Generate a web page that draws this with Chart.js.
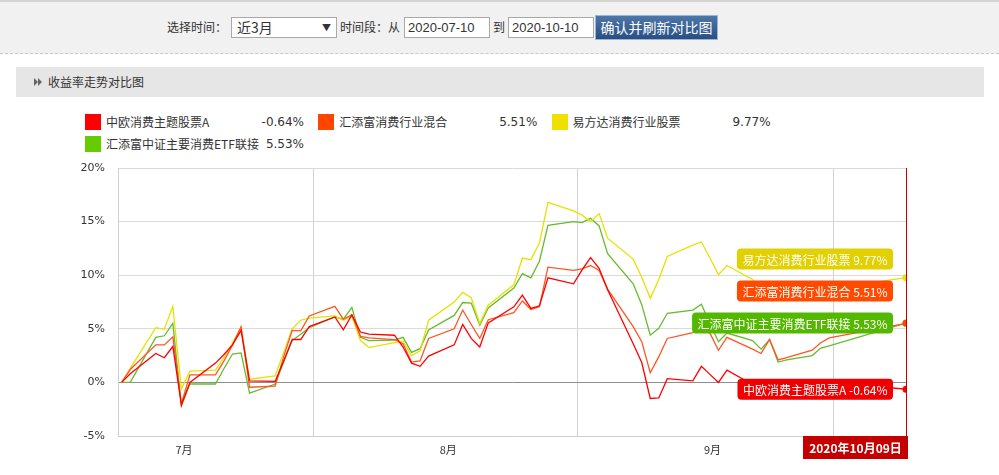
<!DOCTYPE html>
<html>
<head>
<meta charset="utf-8">
<script src="https://cdn.jsdelivr.net/npm/chart.js@4.4.0/dist/chart.umd.min.js"></script>
<style>
  body { margin: 0; width: 999px; height: 475px; overflow: hidden; background: #fff; position: relative;
         font-family: "Noto Sans CJK SC", sans-serif; font-size: 12px; color: #333; }
  .abs { position: absolute; white-space: nowrap; }
  #top { left: 0; top: 0; width: 999px; height: 54px; background: #f1f1f1; border-top: 2px solid #d4d4d4;
         border-bottom: 1px dashed #c9c9c9; box-sizing: border-box; }
  .lbl { line-height: 16px; top: 19px; }
  .box { top: 17px; height: 21px; background: #fff; border: 1px solid #a9a9a9; box-sizing: border-box; }
  .inp { font-family: "Liberation Sans", Arial, sans-serif; font-size: 13px; line-height: 19px; padding-left: 3px; }
  #btn { left: 595px; top: 15px; width: 123px; height: 25px; box-sizing: border-box; border: 1px solid #9fb4cf;
         background: linear-gradient(#4d76ab, #284f84); color: #fff; font-size: 14px; line-height: 22px; text-align: center; }
  #bar { left: 16px; top: 67px; width: 968px; height: 30px; background: #e6e6e6; }
  .tri { position: absolute; top: 11px; width: 0; height: 0; border-top: 4px solid transparent;
         border-bottom: 4px solid transparent; border-left: 4px solid #666; }
  .sq { width: 16px; height: 16px; }
  .lg { line-height: 16px; }
  .lv { font-family: "DejaVu Sans", Verdana, sans-serif; font-size: 12px; line-height: 16px; text-align: right; width: 60px; }
  #c { position: absolute; left: 0; top: 160px; }
</style>
</head>
<body>
<div id="top" class="abs"></div>
<div class="abs lbl" style="left:167px">选择时间：</div>
<div class="abs box" style="left:231px;width:106px">
  <span class="abs" style="left:5px;top:0;font-size:14px;line-height:19px">近3月</span>
  <span class="abs" style="right:5px;top:0;font-size:9px;line-height:19px">▼</span>
</div>
<div class="abs lbl" style="left:340px">时间段：从</div>
<div class="abs box inp" id="fromBox" style="left:404px;width:86px"></div>
<div class="abs lbl" style="left:493px">到</div>
<div class="abs box inp" id="toBox" style="left:508px;width:86px"></div>
<div class="abs" id="btn">确认并刷新对比图</div>

<div class="abs" id="bar">
  <div class="tri" style="left:18px"></div><div class="tri" style="left:22px"></div>
  <span class="abs" style="left:32px;top:0;line-height:30px;font-size:12px">收益率走势对比图</span>
</div>

<div id="legend"></div>
<canvas id="c" width="999" height="315"></canvas>

<script>
// query range shown in the header
const rangeFrom = "2020-07-10";
const rangeTo = "2020-10-10";

// trading days
const dates = [
  "2020-07-09", "2020-07-10", "2020-07-13", "2020-07-14", "2020-07-15", "2020-07-16", "2020-07-17",
  "2020-07-20", "2020-07-21", "2020-07-22", "2020-07-23", "2020-07-24", "2020-07-27", "2020-07-28",
  "2020-07-29", "2020-07-30", "2020-07-31", "2020-08-03", "2020-08-04", "2020-08-05", "2020-08-06",
  "2020-08-07", "2020-08-10", "2020-08-11", "2020-08-12", "2020-08-13", "2020-08-14", "2020-08-17",
  "2020-08-18", "2020-08-19", "2020-08-20", "2020-08-21", "2020-08-24", "2020-08-25", "2020-08-26",
  "2020-08-27", "2020-08-28", "2020-08-31", "2020-09-01", "2020-09-02", "2020-09-03", "2020-09-04",
  "2020-09-07", "2020-09-08", "2020-09-09", "2020-09-10", "2020-09-11", "2020-09-14", "2020-09-15",
  "2020-09-16", "2020-09-17", "2020-09-18", "2020-09-21", "2020-09-22", "2020-09-23", "2020-09-24",
  "2020-09-25", "2020-09-28", "2020-09-29", "2020-09-30", "2020-10-09"
];

// cumulative return, %
const zhongouA = [
  0, 0.8, 2.7, 2.3, 3.35, -2.1, 0.0, 1.8, 2.6, 3.5, 4.85, 0.15, 0.1, 2.0, 4.0, 4.0, 5.2, 6.1, 4.9, 6.3,
  4.7, 4.5, 4.4, 3.3, 1.8, 1.5, 2.45, 3.5, 5.4, 4.1, 3.3, 5.55, 7.05, 8.15, 6.9, 7.15, 9.75, 9.2, 10.5, 11.65,
  10.65, 8.65, 3.6, 1.85, -1.5, -1.45, 0.35, 0.15, 1.5, 0.75, 0.0, 1.15, -0.2, -0.7, 0.1, -0.8, -0.6, -0.5, -0.2, 0.05,
  -0.64
];
const huitianfuMix = [
  0, 1.2, 3.5, 3.5, 4.25, -2.0, 0.7, 0.7, 2.0, 3.5, 5.2, -0.45, -0.35, 2.4, 4.85, 4.8, 6.2, 7.1, 5.9, 6.3,
  4.3, 4.15, 4.0, 3.6, 1.9, 2.0, 4.1, 5.0, 6.75, 5.4, 4.1, 5.85, 6.5, 7.6, 6.8, 7.05, 10.75, 10.45, 10.6, 10.9,
  10.45, 8.7, 5.2, 3.8, 0.9, 2.4, 4.1, 4.65, 4.95, 4.6, 3.0, 4.2, 3.1, 2.7, 4.0, 2.1, 2.3, 3.0, 3.7, 4.15,
  5.51
];
const efundConsumer = [
  0, 1.3, 5.1, 4.95, 7.1, -0.6, 1.05, 1.15, 2.3, 3.7, 5.1, 0.3, 0.6, 2.8, 5.0, 5.8, 6.0, 6.2, 5.8, 6.2,
  3.9, 3.25, 3.7, 3.85, 2.5, 2.95, 5.8, 7.5, 8.4, 7.9, 5.5, 7.2, 9.1, 11.6, 11.45, 13.0, 16.8, 16.0, 15.6, 15.0,
  15.75, 13.45, 11.5, 9.8, 7.85, 9.6, 11.75, 12.8, 13.1, 11.6, 10.05, 10.9, 9.6, 8.9, 9.2, 8.3, 8.5, 8.9, 8.7, 8.7,
  9.77
];
const huitianfuEtf = [
  0, 0.0, 4.2, 4.35, 5.5, -2.2, -0.15, -0.15, 1.3, 2.65, 2.75, -1.0, -0.15, 1.9, 3.9, 4.5, 5.1, 6.1, 5.9, 7.0,
  4.2, 3.9, 3.95, 4.2, 2.8, 3.15, 4.9, 6.25, 7.45, 7.4, 5.35, 6.95, 8.8, 10.15, 9.75, 11.3, 14.65, 15.0, 14.9, 15.3,
  14.6, 12.0, 9.2, 7.25, 4.4, 5.05, 6.45, 6.75, 7.3, 5.5, 3.8, 4.6, 3.9, 3.1, 4.0, 1.9, 2.1, 2.5, 3.2, 3.4,
  5.53
];

const seriesNames = ["中欧消费主题股票A", "汇添富消费行业混合", "易方达消费行业股票", "汇添富中证主要消费ETF联接"];
const yTicks = [-5, 0, 5, 10, 15, 20];
const monthLabels = ["7月", "8月", "9月"];
const lastDateLabel = "2020年10月09日";

const allSeries = [zhongouA, huitianfuMix, efundConsumer, huitianfuEtf];
const lineColors = ["#ff0000", "#ff5522", "#e6e200", "#66bb2e"];
const swatchColors = ["#ff0000", "#ff4500", "#f0e000", "#66cc00"];
const tagColors = ["#f00000", "#ff4a00", "#e2d000", "#55b800"];
const tagStack = [0, 3, 1, 2]; // bottom to top

document.getElementById("fromBox").textContent = rangeFrom;
document.getElementById("toBox").textContent = rangeTo;

const pct = v => v.toFixed(2) + "%";

// legend, 3 per row
const legend = document.getElementById("legend");
seriesNames.forEach((name, i) => {
  const left = 85 + (i % 3) * 233.3, top = 114 + Math.floor(i / 3) * 22;
  const last = allSeries[i][allSeries[i].length - 1];
  legend.insertAdjacentHTML("beforeend",
    `<div class="abs sq" style="left:${left}px;top:${top}px;background:${swatchColors[i]}"></div>` +
    `<div class="abs lg" style="left:${left + 21}px;top:${top}px">${name}</div>` +
    `<div class="abs lv" style="left:${left + 159}px;top:${top}px">${pct(last)}</div>`);
});

const base = Date.UTC(2020, 6, 1);
const dayNum = s => {
  const [y, m, d] = s.split("-").map(Number);
  return (Date.UTC(y, m - 1, d) - base) / 86400000;
};
const monthStarts = [0, 31, 62, 92];
const tickLabel = {};
monthLabels.forEach((t, i) => { tickLabel[(monthStarts[i] + 15.3).toFixed(1)] = t; });
const xTickValues = [];
monthLabels.forEach((t, i) => { xTickValues.push(monthStarts[i] + 15.3, monthStarts[i + 1] - 0.5); });

const endMarker = {
  id: "endMarker",
  beforeDatasetsDraw(chart) {
    const { ctx, chartArea: a } = chart;
    ctx.save();
    ctx.strokeStyle = "#c00000";
    ctx.lineWidth = 1;
    ctx.beginPath();
    ctx.moveTo(a.right + 0.5, a.top);
    ctx.lineTo(a.right + 0.5, a.bottom);
    ctx.stroke();
    ctx.restore();
  },
  afterDatasetsDraw(chart) {
    const { ctx, chartArea: a, scales } = chart;
    ctx.save();
    // date tag under the axis
    ctx.fillStyle = "#c40000";
    ctx.fillRect(a.right - 103, a.bottom, 105, 23);
    ctx.fillStyle = "#fff";
    ctx.font = "bold 12px 'Noto Sans CJK SC', sans-serif";
    ctx.textAlign = "center";
    ctx.textBaseline = "middle";
    ctx.fillText(lastDateLabel, a.right - 50.5, a.bottom + 12);

    // value tags
    ctx.font = "12px 'Noto Sans CJK SC', sans-serif";
    ctx.textAlign = "left";
    let prev = null;
    tagStack.forEach(i => {
      const s = allSeries[i];
      const last = s[s.length - 1];
      let y = scales.y.getPixelForValue(last);
      if (prev !== null) y = Math.min(y, prev - 32);
      prev = y;
      const text = seriesNames[i] + " " + pct(last);
      const w = ctx.measureText(text).width + 11;
      const x = a.right - 13 - w;
      ctx.fillStyle = tagColors[i];
      ctx.beginPath();
      ctx.roundRect(x, y - 10.5, w, 21, 4);
      ctx.fill();
      ctx.fillStyle = "#fff";
      ctx.fillText(text, x + 5.5, y + 1);
    });
    ctx.restore();
  }
};

new Chart(document.getElementById("c"), {
  type: "line",
  data: {
    datasets: allSeries.map((s, i) => ({
      label: seriesNames[i],
      data: dates.map((d, j) => ({ x: dayNum(d), y: s[j] })),
      borderColor: lineColors[i],
      backgroundColor: lineColors[i],
      borderWidth: 1.3,
      tension: 0,
      fill: false,
      pointRadius: c => (c.dataIndex === dates.length - 1 ? 3.5 : 0),
      pointBackgroundColor: swatchColors[i],
      pointBorderWidth: 0,
      pointHoverRadius: 0
    }))
  },
  options: {
    responsive: false,
    animation: false,
    events: [],
    layout: { padding: { left: 0, right: 93, top: 8, bottom: 0 } },
    plugins: { legend: { display: false }, tooltip: { enabled: false } },
    scales: {
      x: {
        type: "linear",
        min: 7.566,
        max: 100,
        afterBuildTicks: s => { s.ticks = xTickValues.map(v => ({ value: v })); },
        afterFit: s => { s.height = 39; s.paddingLeft = 0; s.paddingRight = 0; },
        grid: {
          drawTicks: false,
          color: c => (c.tick && tickLabel[c.tick.value.toFixed(1)] ? "rgba(0,0,0,0)" : "#d2d2d2")
        },
        border: { color: "#cfcfcf" },
        ticks: {
          autoSkip: false, maxRotation: 0, minRotation: 0, padding: 7, color: "#333",
          font: { family: "'Noto Sans CJK SC', sans-serif", size: 11 },
          callback: v => tickLabel[Number(v).toFixed(1)] || ""
        }
      },
      y: {
        min: -5,
        max: 20,
        afterBuildTicks: s => { s.ticks = yTicks.map(v => ({ value: v })); },
        afterFit: s => { s.width = 118; s.paddingTop = 0; s.paddingBottom = 0; },
        grid: {
          drawTicks: false,
          color: c => (c.tick && c.tick.value === 0 ? "#8e8e8e" : "#dadada")
        },
        border: { color: "#cfcfcf" },
        ticks: {
          padding: 13, color: "#333",
          font: { family: "'DejaVu Sans', Verdana, sans-serif", size: 11 },
          callback: v => v + "%"
        }
      }
    }
  },
  plugins: [endMarker]
});
</script>
</body>
</html>
